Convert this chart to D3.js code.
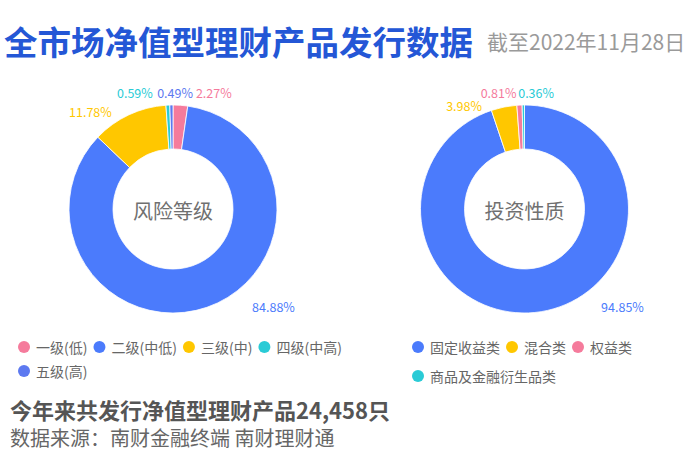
<!DOCTYPE html>
<html>
<head>
<meta charset="utf-8">
<script src="https://cdn.jsdelivr.net/npm/d3@7"></script>
<style>
  html, body { margin: 0; padding: 0; background: #fff; }
  svg { display: block; font-family: "Noto Sans CJK SC", "Noto Sans", sans-serif; }
</style>
</head>
<body>
<svg id="chart" width="700" height="465"></svg>
<script>
// ---- data ----
const riskLabels = ["一级(低)", "二级(中低)", "三级(中)", "四级(中高)", "五级(高)"];
const riskValues = [2.27, 84.88, 11.78, 0.59, 0.49];
const natureLabels = ["固定收益类", "混合类", "权益类", "商品及金融衍生品类"];
const natureValues = [94.85, 3.98, 0.81, 0.36];
const titleText = "全市场净值型理财产品发行数据";
const dateText = "截至2022年11月28日";
const totalText = "今年来共发行净值型理财产品24,458只";
const sourceText = "数据来源：南财金融终端 南财理财通";

// ---- styles ----
const riskColors = ["#F57B9C", "#4B7BFC", "#FFC700", "#2ACBD6", "#5D79F0"];
const natureColors = ["#4B7BFC", "#FFC700", "#F57B9C", "#2ACBD6"];

const svg = d3.select("#chart");

// Title
svg.append("text").attr("x", 4).attr("y", 55)
  .attr("font-size", 33.5).attr("font-weight", 700).attr("fill", "#2457D6")
  .text(titleText);
svg.append("text").attr("x", 487).attr("y", 50)
  .attr("font-size", 21).attr("fill", "#9a9a9a")
  .text(dateText);

function donut(cfg) {
  const g = svg.append("g").attr("transform", `translate(${cfg.cx},${cfg.cy})`);
  const pie = d3.pie().sort(null).value(d => d)(cfg.values);
  const arc = d3.arc().innerRadius(cfg.inner).outerRadius(cfg.outer);
  const labelArc = d3.arc().innerRadius(cfg.outer + 20).outerRadius(cfg.outer + 20);
  g.selectAll("path.slice").data(pie).join("path")
    .attr("class", "slice")
    .attr("d", arc)
    .attr("fill", (d, i) => cfg.colors[i])
    .attr("stroke", "#fff").attr("stroke-width", 0.8);
  g.selectAll("text.pct").data(pie).join("text")
    .attr("class", "pct")
    .attr("transform", (d, i) => {
      const c = labelArc.centroid(d);
      const n = cfg.nudge[i];
      return `translate(${c[0] + n[0]},${c[1] + n[1]})`;
    })
    .attr("text-anchor", "middle").attr("dominant-baseline", "central")
    .attr("font-size", 12.5).attr("fill", (d, i) => cfg.colors[i])
    .text(d => d3.format(".2f")(d.value) + "%");
  g.append("text").attr("text-anchor", "middle").attr("dominant-baseline", "central")
    .attr("y", 1).attr("font-size", 20).attr("fill", "#707070")
    .text(cfg.center);
}

donut({ cx: 173, cy: 209, inner: 60, outer: 104, values: riskValues, colors: riskColors,
  center: "风险等级",
  nudge: [[32, 7], [60, -20], [-30, 15], [-32, 7], [4, 7]] });
donut({ cx: 524.5, cy: 209, inner: 60, outer: 104, values: natureValues, colors: natureColors,
  center: "投资性质",
  nudge: [[78, -25], [-36, 18], [-20, 7], [13, 7]] });

function legend(labels, colors, x0, y0, maxX, rowGap) {
  const g = svg.append("g");
  let x = x0, y = y0;
  labels.forEach((lab, i) => {
    const item = g.append("g");
    item.append("circle").attr("r", 6).attr("cx", 6).attr("cy", 0).attr("fill", colors[i]);
    const t = item.append("text").attr("x", 18).attr("y", 0)
      .attr("dominant-baseline", "central").attr("font-size", 14).attr("fill", "#666")
      .text(lab);
    const w = 18 + t.node().getComputedTextLength();
    if (x !== x0 && x + w > maxX) { x = x0; y += rowGap; }
    item.attr("transform", `translate(${x},${y})`);
    x += w + 6;
  });
}
legend(riskLabels, riskColors, 18, 347, 345, 24);
legend(natureLabels, natureColors, 412, 347, 690, 29);

svg.append("text").attr("x", 10).attr("y", 419)
  .attr("font-size", 22).attr("font-weight", 700).attr("fill", "#555")
  .text(totalText);
svg.append("text").attr("x", 10).attr("y", 446)
  .attr("font-size", 20).attr("fill", "#666")
  .text(sourceText);
</script>
</body>
</html>
